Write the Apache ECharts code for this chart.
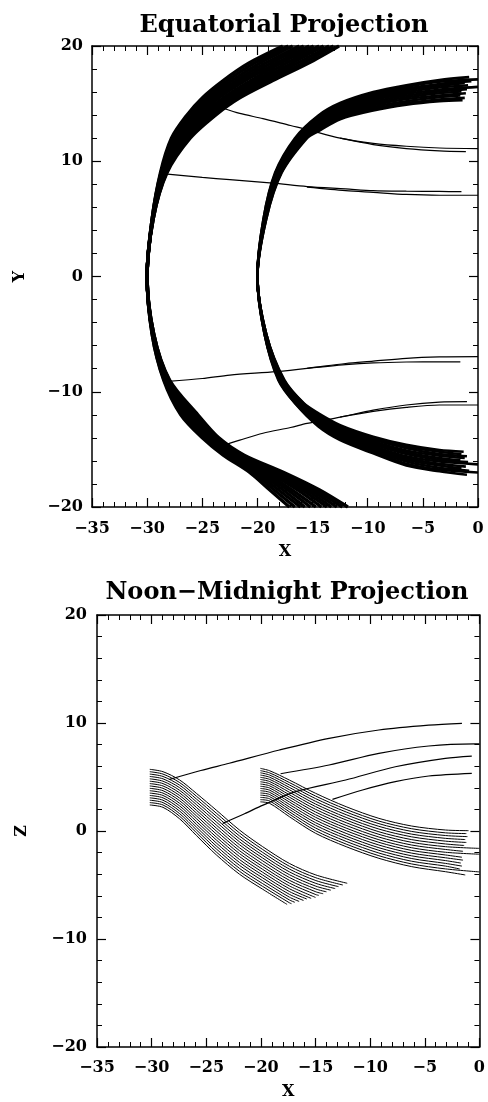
<!DOCTYPE html>
<html>
<head>
<meta charset="utf-8">
<script src="https://cdn.jsdelivr.net/npm/echarts@6/dist/echarts.min.js"></script>
<style>
html, body { margin: 0; padding: 0; background: #fff; }
#main { width: 488px; height: 1102px; }
</style>
</head>
<body>
<div id="main"></div>
<script>
// ============================= 数据 ======================================================

// x / y / z tick values
const xTicks = [-35, -30, -25, -20, -15, -10, -5, 0];
const yTicks = [-20, -10, 0, 10, 20];

// ---- Equatorial projection: west arc family, x of each trace at shared Y levels
const eqWestLevels = [20, 18.5, 17, 15.5, 14, 12, 9, 5, 0, -5, -9, -12, -14, -15.5, -17, -18.5, -20];
const eqWestX = [
    [-17.7, -20.8, -23.1, -25.0, -26.4, -27.8, -28.8, -29.55, -30, -29.55, -28.5, -26.95, -25.0, -23.1, -20.7, -18.9, -17.1],
    [-17.2, -20.3, -22.7, -24.7, -26.2, -27.6, -28.75, -29.55, -30, -29.55, -28.45, -26.8, -24.85, -22.9, -20.4, -18.5, -16.6],
    [-16.8, -19.8, -22.3, -24.4, -25.9, -27.5, -28.7, -29.55, -30, -29.5, -28.4, -26.65, -24.7, -22.75, -20.15, -18.1, -16.1],
    [-16.2, -19.3, -21.9, -24.1, -25.7, -27.3, -28.65, -29.5, -30, -29.5, -28.35, -26.5, -24.6, -22.6, -19.9, -17.7, -15.7],
    [-15.8, -18.8, -21.5, -23.8, -25.5, -27.2, -28.6, -29.5, -30, -29.5, -28.3, -26.4, -24.45, -22.4, -19.6, -17.3, -15.2],
    [-15.3, -18.3, -21.1, -23.5, -25.2, -27.0, -28.55, -29.5, -30, -29.5, -28.25, -26.25, -24.3, -22.25, -19.3, -16.9, -14.7],
    [-14.9, -17.9, -20.6, -23.1, -25.0, -26.9, -28.5, -29.5, -30, -29.45, -28.2, -26.1, -24.15, -22.05, -19.0, -16.4, -14.2],
    [-14.4, -17.4, -20.2, -22.8, -24.8, -26.7, -28.45, -29.5, -30, -29.45, -28.15, -25.95, -24.0, -21.9, -18.75, -16.0, -13.7],
    [-14.0, -16.9, -19.8, -22.5, -24.5, -26.6, -28.4, -29.5, -30, -29.45, -28.1, -25.8, -23.9, -21.7, -18.45, -15.6, -13.3],
    [-13.5, -16.4, -19.4, -22.2, -24.3, -26.4, -28.3, -29.45, -30, -29.4, -28.05, -25.7, -23.75, -21.55, -18.2, -15.2, -12.8],
    [-13.1, -15.9, -19.0, -21.9, -24.0, -26.3, -28.25, -29.45, -30, -29.4, -28.0, -25.55, -23.6, -21.35, -17.9, -14.8, -12.3],
    [-12.6, -15.4, -18.6, -21.6, -23.8, -26.1, -28.2, -29.45, -30, -29.4, -27.95, -25.4, -23.5, -21.2, -17.6, -14.4, -11.8]
];

// ---- Equatorial projection: east arc family (nose at X=-20)
const eqEastNose = [-20, 0];
const eqEastUpEnd = [[-0.8, 17.3], [0, 17.1], [-0.6, 16.95], [-1.2, 16.8], [-0.9, 16.6], [0, 16.45],
    [-1.0, 16.25], [-1.5, 16.05], [-1.1, 15.9], [-1.6, 15.7], [-1.2, 15.5], [-1.4, 15.3]];
const eqEastUpArmX = [-3.5, -6.5, -9.5, -12.5, -14.5];
const eqEastUpArmY = [
    [17.05, 16.6, 16.0, 15.05, 13.95], [16.9, 16.45, 15.85, 14.9, 13.8], [16.7, 16.3, 15.7, 14.8, 13.7],
    [16.55, 16.15, 15.55, 14.65, 13.55], [16.4, 16.0, 15.45, 14.55, 13.45], [16.2, 15.85, 15.3, 14.4, 13.3],
    [16.05, 15.7, 15.15, 14.3, 13.2], [15.9, 15.55, 15.0, 14.15, 13.05], [15.7, 15.4, 14.85, 14.05, 12.95],
    [15.55, 15.2, 14.7, 13.9, 12.8], [15.35, 15.05, 14.55, 13.8, 12.7], [15.2, 14.9, 14.4, 13.65, 12.6]
];
const eqEastUpNoseY = [12, 9, 5];
const eqEastUpNoseX = [
    [-16.6, -18.4, -19.45], [-16.5, -18.35, -19.45], [-16.4, -18.3, -19.4], [-16.3, -18.25, -19.4],
    [-16.2, -18.2, -19.35], [-16.1, -18.15, -19.35], [-16.0, -18.1, -19.3], [-15.9, -18.0, -19.3],
    [-15.8, -17.95, -19.25], [-15.7, -17.9, -19.25], [-15.6, -17.85, -19.2], [-15.5, -17.8, -19.2]
];
const eqEastLoNoseY = [-5, -9, -11];
const eqEastLoNoseX = [
    [-19.35, -18.1, -16.6], [-19.35, -18.05, -16.55], [-19.35, -18.0, -16.45], [-19.3, -17.95, -16.4],
    [-19.3, -17.9, -16.3], [-19.3, -17.85, -16.25], [-19.25, -17.8, -16.15], [-19.25, -17.75, -16.1],
    [-19.25, -17.7, -16.0], [-19.2, -17.65, -15.95], [-19.2, -17.6, -15.85], [-19.2, -17.55, -15.8]
];
const eqEastLoArmX = [-14.5, -12.5, -9.5, -6.5, -3.5];
const eqEastLoArmY = [
    [-13.0, -14.2, -15.35, -16.4, -16.9], [-12.9, -14.1, -15.2, -16.25, -16.75], [-12.8, -13.95, -15.1, -16.05, -16.6],
    [-12.7, -13.85, -14.95, -15.9, -16.4], [-12.6, -13.7, -14.8, -15.75, -16.25], [-12.5, -13.6, -14.7, -15.6, -16.05],
    [-12.35, -13.5, -14.55, -15.4, -15.9], [-12.25, -13.35, -14.45, -15.25, -15.75], [-12.15, -13.25, -14.3, -15.1, -15.55],
    [-12.05, -13.1, -14.15, -14.9, -15.4], [-11.95, -13.0, -14.05, -14.75, -15.2], [-11.85, -12.9, -13.9, -14.6, -15.05]
];
const eqEastLoEnd = [[-1.0, -17.2], [0, -17.0], [-0.8, -16.85], [-1.5, -16.65], [-1.1, -16.5], [0, -16.3],
    [-0.9, -16.1], [-1.6, -15.95], [-1.2, -15.75], [-1.0, -15.6], [-1.5, -15.4], [-1.3, -15.2]];

// ---- Equatorial projection: single crossing traces
const eqCrossA  = [[-23.1, 14.6], [-21.6, 14.15], [-19.5, 13.7], [-17, 13.1], [-15.5, 12.75], [-12.5, 12.0], [-9.5, 11.55], [-6.5, 11.3], [-3.5, 11.15], [0, 11.1]];
const eqCrossA2 = [[-12.5, 12.0], [-9.5, 11.45], [-6.5, 11.1], [-3.5, 10.9], [-1.1, 10.83]];
const eqCrossB  = [[-28.4, 8.9], [-25, 8.6], [-22.5, 8.4], [-18.6, 8.1], [-15.5, 7.8], [-12, 7.6], [-9.5, 7.45], [-6.5, 7.4], [-3.5, 7.38], [-1.5, 7.36]];
const eqCrossB2 = [[-15.5, 7.75], [-12, 7.45], [-9.5, 7.3], [-6.5, 7.12], [-3.5, 7.05], [0, 7.05]];
const eqCrossC  = [[-28.1, -9.1], [-25, -8.85], [-22.5, -8.55], [-18.3, -8.25], [-15.5, -7.97], [-12, -7.55], [-9.5, -7.35], [-6.5, -7.1], [-3.5, -6.98], [0, -6.95]];
const eqCrossC2 = [[-15.5, -7.97], [-12, -7.65], [-9.5, -7.5], [-6.5, -7.42], [-3.5, -7.4], [-1.6, -7.4]];
const eqCrossD  = [[-22.9, -14.6], [-21.6, -14.2], [-19.5, -13.6], [-17, -13.1], [-15.5, -12.75], [-12.5, -12.2], [-9.5, -11.6], [-6.5, -11.15], [-3.5, -10.9], [-1, -10.86]];
const eqCrossD2 = [[-12.5, -12.2], [-9.5, -11.7], [-6.5, -11.35], [-3.5, -11.15], [0, -11.15]];

// ---- Noon-midnight projection: west fan (starts at X=-30)
const noonWestX = [-30.17, -28.96, -27.43, -25.91, -24.09, -21.96, -19.84, -17.4, -14.97];
const noonWestZ = [
    [5.71, 5.49, 4.72, 3.49, 1.94, 0.09, -1.45, -3.0, -4.07],
    [5.49, 5.27, 4.48, 3.23, 1.66, -0.18, -1.71, -3.26, -4.33],
    [5.27, 5.05, 4.24, 2.97, 1.39, -0.46, -1.98, -3.52, -4.59],
    [5.05, 4.83, 4.0, 2.71, 1.11, -0.73, -2.24, -3.78, -4.85],
    [4.83, 4.61, 3.76, 2.45, 0.84, -1.0, -2.5, -4.04, -5.11],
    [4.61, 4.39, 3.52, 2.19, 0.56, -1.27, -2.76, -4.3, -5.37],
    [4.39, 4.17, 3.28, 1.93, 0.28, -1.55, -3.03, -4.56, -5.63],
    [4.17, 3.95, 3.04, 1.67, 0.01, -1.82, -3.29, -4.82, -5.89],
    [3.95, 3.73, 2.8, 1.41, -0.27, -2.09, -3.55, -5.08],
    [3.73, 3.51, 2.56, 1.15, -0.55, -2.36, -3.82, -5.34],
    [3.51, 3.29, 2.32, 0.89, -0.82, -2.64, -4.08, -5.6],
    [3.29, 3.07, 2.08, 0.63, -1.1, -2.91, -4.34, -5.86],
    [3.07, 2.85, 1.84, 0.37, -1.38, -3.18, -4.6, -6.12],
    [2.85, 2.63, 1.6, 0.11, -1.65, -3.46, -4.87, -6.38],
    [2.63, 2.41, 1.36, -0.15, -1.93, -3.73, -5.13, -6.64],
    [2.41, 2.19, 1.12, -0.41, -2.2, -4.0, -5.39]
];
const noonWestEnd = [[-12.1, -4.84], [-12.5, -5.0], [-12.9, -5.15], [-13.2, -5.33], [-13.6, -5.48], [-14.0, -5.63],
    [-14.3, -5.81], [-14.7, -5.96], [-15.0, -6.15], [-15.4, -6.24], [-15.8, -6.3], [-16.1, -6.43],
    [-16.5, -6.52], [-16.9, -6.6], [-17.2, -6.73], [-17.6, -6.8]];

// ---- Noon-midnight projection: east fan (starts at X=-20)
const noonEastX = [-20.05, -19.2, -17.4, -15, -12.2, -9.2, -6.2, -3.1];
const noonEastZ = [
    [5.8, 5.58, 4.72, 3.49, 2.25, 1.17, 0.46, 0.09],
    [5.59, 5.38, 4.49, 3.24, 2.0, 0.92, 0.21, -0.17],
    [5.39, 5.18, 4.27, 3.0, 1.76, 0.68, -0.04, -0.42],
    [5.18, 4.98, 4.04, 2.75, 1.51, 0.43, -0.29, -0.68],
    [4.97, 4.78, 3.82, 2.5, 1.26, 0.18, -0.54, -0.94],
    [4.77, 4.58, 3.59, 2.26, 1.02, -0.07, -0.8, -1.2],
    [4.56, 4.38, 3.36, 2.01, 0.77, -0.31, -1.05, -1.45],
    [4.35, 4.18, 3.14, 1.76, 0.52, -0.56, -1.3, -1.71],
    [4.14, 3.98, 2.91, 1.51, 0.27, -0.81, -1.55, -1.97],
    [3.94, 3.78, 2.69, 1.27, 0.03, -1.05, -1.8, -2.22],
    [3.73, 3.58, 2.46, 1.02, -0.22, -1.3, -2.05, -2.48],
    [3.52, 3.38, 2.23, 0.77, -0.47, -1.55, -2.3, -2.74],
    [3.32, 3.18, 2.01, 0.53, -0.71, -1.79, -2.55, -3.0],
    [3.11, 2.98, 1.78, 0.28, -0.96, -2.04, -2.8, -3.25],
    [2.9, 2.78, 1.56, 0.03, -1.21, -2.29, -3.05, -3.51],
    [2.7, 2.56, 1.33, -0.21, -1.45, -2.53, -3.3, -3.77]
];
const noonEastEnd = [[-1.0, 0.03], [-1.2, -0.24], [-1.1, -0.52], [-1.3, -0.79], [-1.2, -1.06], [-1.4, -1.34],
    [0, -1.61], [-1.5, -1.88], [0, -2.15], [-1.6, -2.43], [-1.5, -2.7], [-1.7, -2.97],
    [-1.6, -3.25], [-1.8, -3.52], [0, -3.79], [-1.3, -4.07]];

// ---- Noon-midnight projection: single crossing traces
const noonCrossE = [[-28.35, 4.78], [-25.5, 5.6], [-22.9, 6.27], [-18.3, 7.5], [-13.76, 8.58], [-9.2, 9.35], [-4.64, 9.8], [-1.6, 9.97]];
const noonCrossF = [[-18.2, 5.3], [-13.76, 6.11], [-9.2, 7.19], [-4.64, 7.87], [-0.4, 8.06], [0, 8.06]];
const noonCrossG = [[-23.5, 0.71], [-21.5, 1.6], [-19.8, 2.4], [-16.8, 3.64], [-12.24, 4.72], [-7.7, 5.95], [-3.12, 6.73], [-0.7, 6.94]];
const noonCrossH = [[-13.45, 2.93], [-10.7, 3.8], [-7.7, 4.57], [-4.64, 5.09], [-0.7, 5.34]];

// ============================= 样式 ===============================

const FONT = 'DejaVu Serif';
const INK = '#000';

function minusLabel(v) {
    return v < 0 ? '\u2212' + Math.abs(v) : String(v);
}

function xAxes(grid, labelMargin, nameGap) {
    const base = {
        type: 'value', gridIndex: grid, min: xTicks[0], max: xTicks[xTicks.length - 1], interval: 5,
        splitLine: { show: false },
        axisLine: { show: true, onZero: false, lineStyle: { color: INK, width: 1.5 } },
        axisTick: { show: true, inside: true, length: 9, lineStyle: { color: INK, width: 1.2 } },
        minorTick: { show: true, splitNumber: 5, length: 5, lineStyle: { color: INK, width: 1 } }
    };
    return [
        Object.assign({}, base, {
            position: 'bottom', name: 'X', nameLocation: 'middle', nameGap: nameGap,
            nameTextStyle: { color: INK, fontFamily: FONT, fontWeight: 'bold', fontSize: 16 },
            axisLabel: { color: INK, fontFamily: FONT, fontWeight: 'bold', fontSize: 16, margin: labelMargin, formatter: minusLabel }
        }),
        Object.assign({}, base, { position: 'top', axisLabel: { show: false } })
    ];
}

function yAxes(grid, name, labelMargin, nameGap) {
    const base = {
        type: 'value', gridIndex: grid, min: yTicks[0], max: yTicks[yTicks.length - 1], interval: 10,
        splitLine: { show: false },
        axisLine: { show: true, onZero: false, lineStyle: { color: INK, width: 1.5 } },
        axisTick: { show: true, inside: true, length: 9, lineStyle: { color: INK, width: 1.2 } },
        minorTick: { show: true, splitNumber: 5, length: 5, lineStyle: { color: INK, width: 1 } }
    };
    return [
        Object.assign({}, base, {
            position: 'left', name: name, nameLocation: 'middle', nameGap: nameGap,
            nameTextStyle: { color: INK, fontFamily: FONT, fontWeight: 'bold', fontSize: 16 },
            axisLabel: { color: INK, fontFamily: FONT, fontWeight: 'bold', fontSize: 16, margin: labelMargin, formatter: minusLabel }
        }),
        Object.assign({}, base, { position: 'right', axisLabel: { show: false } })
    ];
}

// ============================= 系列 ===============================

const series = [];

function addTrace(points, panel, width) {
    series.push({
        type: 'line',
        xAxisIndex: panel * 2,
        yAxisIndex: panel * 2,
        data: points,
        symbol: 'none',
        smooth: 0.3,
        silent: true,
        clip: true,
        lineStyle: { color: INK, width: width }
    });
}

// west arc family (packed so densely it prints solid)
eqWestX.forEach(function (xs) {
    addTrace(eqWestLevels.map(function (y, i) { return [xs[i], y]; }), 0, 3.3);
});

// east arc family
eqEastUpEnd.forEach(function (end, k) {
    const pts = [end];
    eqEastUpArmX.forEach(function (x, i) { pts.push([x, eqEastUpArmY[k][i]]); });
    eqEastUpNoseY.forEach(function (y, i) { pts.push([eqEastUpNoseX[k][i], y]); });
    pts.push(eqEastNose);
    eqEastLoNoseY.forEach(function (y, i) { pts.push([eqEastLoNoseX[k][i], y]); });
    eqEastLoArmX.forEach(function (x, i) { pts.push([x, eqEastLoArmY[k][i]]); });
    pts.push(eqEastLoEnd[k]);
    addTrace(pts, 0, 2.6);
});

[eqCrossA, eqCrossA2, eqCrossB, eqCrossB2, eqCrossC, eqCrossC2, eqCrossD, eqCrossD2].forEach(function (p) {
    addTrace(p, 0, 1.2);
});

// fans
noonWestZ.forEach(function (zs, k) {
    const pts = zs.map(function (z, i) { return [noonWestX[i], z]; });
    pts.push(noonWestEnd[k]);
    addTrace(pts, 1, 1);
});
noonEastZ.forEach(function (zs, k) {
    const pts = zs.map(function (z, i) { return [noonEastX[i], z]; });
    pts.push(noonEastEnd[k]);
    addTrace(pts, 1, 1);
});
[noonCrossE, noonCrossF, noonCrossG, noonCrossH].forEach(function (p) {
    addTrace(p, 1, 1.2);
});

// ============================= 设置属性 ===============================

const titleFont = 'bold 24px "' + FONT + '"';

let option = {
    animation: false,
    backgroundColor: '#fff',
    graphic: [
        { type: 'text', x: 284, y: 26, silent: true,
          style: { text: 'Equatorial Projection', font: titleFont, fill: INK, align: 'center', verticalAlign: 'middle', textAlign: 'center', textVerticalAlign: 'middle' } },
        { type: 'text', x: 287, y: 593, silent: true,
          style: { text: 'Noon\u2212Midnight Projection', font: titleFont, fill: INK, align: 'center', verticalAlign: 'middle', textAlign: 'center', textVerticalAlign: 'middle' } }
    ],
    grid: [
        { left: 92, top: 46, width: 386, height: 461 },
        { left: 97, top: 615, width: 384, height: 432 }
    ],
    xAxis: xAxes(0, 14, 37).concat(xAxes(1, 13, 37)),
    yAxis: yAxes(0, 'Y', 9, 64).concat(yAxes(1, 'Z', 10, 67)),
    series: series
};

echarts.init(document.getElementById('main'), null, { renderer: 'canvas' }).setOption(option);
</script>
</body>
</html>
